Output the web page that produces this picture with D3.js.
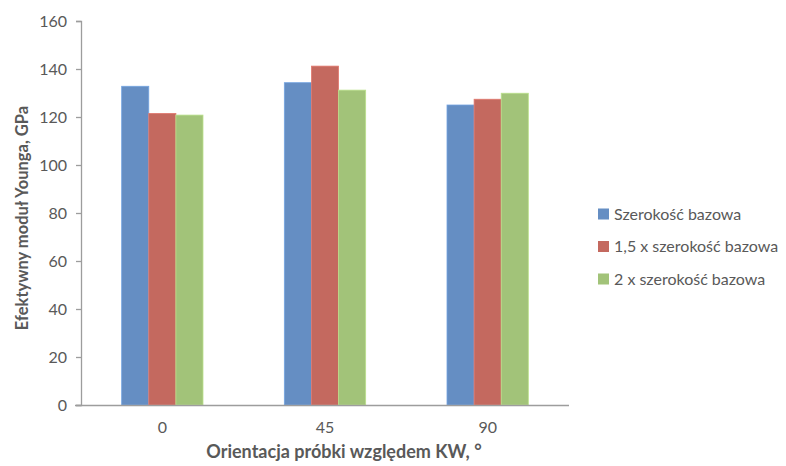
<!DOCTYPE html>
<html><head><meta charset="utf-8">
<script src="https://cdn.jsdelivr.net/npm/d3@7"></script>
<style>body{margin:0;background:#fff}svg{display:block}text{font-family:Lato,"Open Sans",sans-serif}</style>
</head><body><svg id="c" width="786" height="466"></svg>
<script>
const categories = ["0", "45", "90"];
const seriesNames = ["Szerokość bazowa", "1,5 x szerokość bazowa", "2 x szerokość bazowa"];
const seriesColors = ["#658EC3", "#C4695F", "#A2C379"];
const serieBase = [132.8, 134.3, 125.0];
const serie15 = [121.5, 141.2, 127.4];
const serie2 = [120.8, 131.2, 129.9];
const yTicks = [0, 20, 40, 60, 80, 100, 120, 140, 160];
const series = [serieBase, serie15, serie2];

const svg = d3.select("#c");
const L = 81, R = 569, T = 21, B = 405;
const x0 = d3.scaleBand().domain(categories).range([L, R]).padding(0);
const x1 = d3.scaleBand().domain(d3.range(3)).range([x0.bandwidth()/4, x0.bandwidth()*3/4]).padding(0);
const y = d3.scaleLinear().domain([0, 160]).range([B, T]);

// y axis
const ya = svg.append("g").attr("transform", `translate(${L},0)`)
  .call(d3.axisLeft(y).tickValues(yTicks).tickSize(5).tickPadding(9));
ya.select(".domain").attr("stroke", "#9d9d9d").attr("stroke-width", 1.3);
ya.selectAll(".tick line").attr("stroke", "#9d9d9d").attr("stroke-width", 1.3);
ya.selectAll("text").attr("fill", "#595959").style("font-size", "16px");

// bars
categories.forEach((c, i) => {
  series.forEach((s, j) => {
    svg.append("rect")
      .attr("x", x0(c) + x1(j)).attr("y", y(s[i]))
      .attr("width", x1.bandwidth()).attr("height", B - y(s[i]))
      .attr("fill", seriesColors[j])
      .attr("stroke", d3.color(seriesColors[j]).brighter(0.4)).attr("stroke-width", 0.8);
  });
});

// x axis line
svg.append("line").attr("x1", 75).attr("x2", R).attr("y1", B + 0.5).attr("y2", B + 0.5)
  .attr("stroke", "#9d9d9d").attr("stroke-width", 1.3);
const xa = svg.append("g").attr("transform", `translate(0,${B})`)
  .call(d3.axisBottom(x0).tickSize(0).tickPadding(17));
xa.select(".domain").remove();
xa.selectAll("text").attr("fill", "#595959").style("font-size", "16px");

// titles
svg.append("text").attr("transform", `translate(28,218) rotate(-90)`)
  .attr("text-anchor", "middle").attr("fill", "#595959")
  .style("font-size", "16.5px").style("font-weight", "bold")
  .text("Efektywny moduł Younga, GPa");
svg.append("text").attr("x", 344).attr("y", 458)
  .attr("text-anchor", "middle").attr("fill", "#595959")
  .style("font-size", "18px").style("font-weight", "bold")
  .text("Orientacja próbki względem KW, °");

// legend
seriesNames.forEach((n, j) => {
  const cy = 214 + j * 32.5;
  svg.append("rect").attr("x", 598).attr("y", cy - 5.5).attr("width", 11).attr("height", 11)
    .attr("fill", seriesColors[j]);
  svg.append("text").attr("x", 614).attr("y", cy).attr("dy", "0.35em")
    .attr("fill", "#595959").style("font-size", "16px").text(n);
});
</script></body></html>
